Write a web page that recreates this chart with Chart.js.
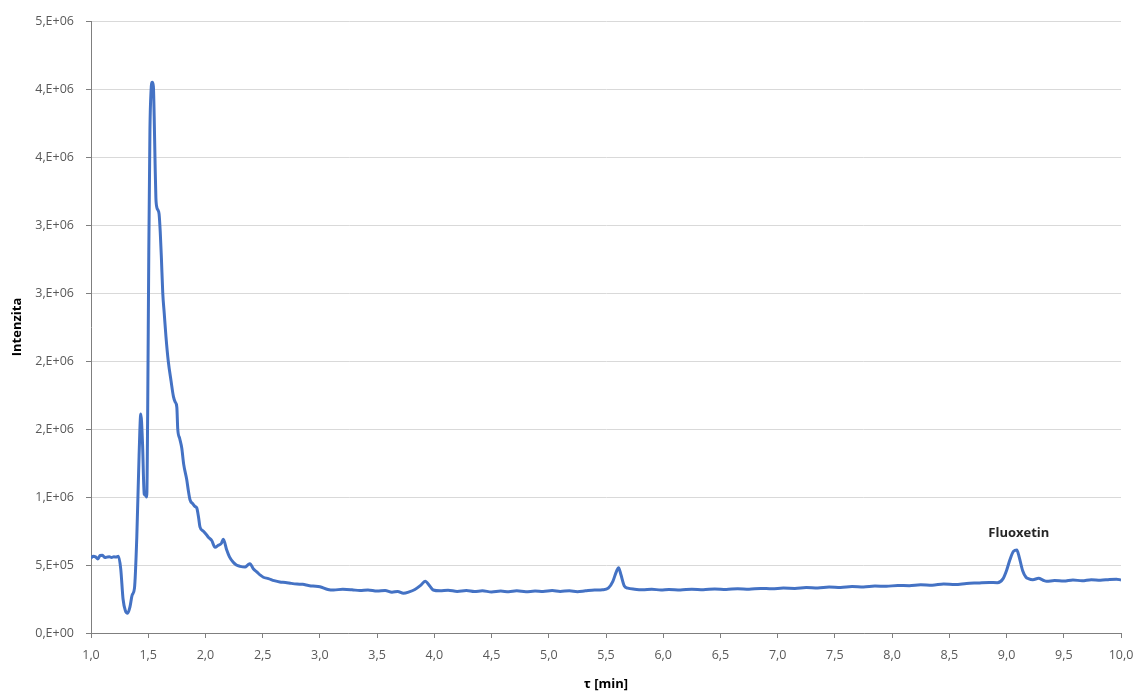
<!DOCTYPE html>
<html>
<head>
<meta charset="utf-8">
<script src="https://cdn.jsdelivr.net/npm/chart.js@4/dist/chart.umd.min.js"></script>
<style>
    html, body { margin: 0; padding: 0; background: #ffffff; }
    #wrap { width: 1137px; height: 695px; position: relative; }
</style>
</head>
<body>
<div id="wrap"><canvas id="chart"></canvas></div>
<script>
"use strict";

// retention time [min]
const times = [
    1.00, 1.02, 1.04, 1.06, 1.08, 1.10, 1.12, 1.14, 1.16, 1.18, 1.20, 1.22, 1.24,
    1.26, 1.28, 1.30, 1.32, 1.34, 1.36, 1.38, 1.40, 1.42, 1.435, 1.45, 1.465, 1.48, 1.487,
    1.495, 1.505, 1.515, 1.525, 1.535, 1.545, 1.552, 1.56, 1.567, 1.575, 1.585, 1.595,
    1.605, 1.615, 1.627, 1.64, 1.655, 1.675, 1.70, 1.72, 1.735, 1.75, 1.758, 1.775, 1.793,
    1.81, 1.836, 1.85, 1.865, 1.89, 1.909, 1.924, 1.94, 1.952, 1.98, 2.011, 2.03, 2.055,
    2.084, 2.112, 2.14, 2.156, 2.186, 2.21, 2.243, 2.27, 2.302, 2.346, 2.37, 2.389, 2.42,
    2.448, 2.48, 2.506, 2.55, 2.60, 2.65, 2.70, 2.75, 2.80, 2.85, 2.90, 2.94, 3.00, 3.07,
    3.12, 3.20, 3.28, 3.35, 3.42, 3.50, 3.57, 3.63, 3.68, 3.73, 3.78, 3.83, 3.88, 3.92,
    3.96, 3.99, 4.05, 4.12, 4.20, 4.28, 4.35, 4.42, 4.50, 4.58, 4.65, 4.72, 4.80, 4.88,
    4.95, 5.03, 5.10, 5.18, 5.25, 5.32, 5.40, 5.47, 5.52, 5.56, 5.59, 5.61, 5.63, 5.66,
    5.69, 5.75, 5.82, 5.90, 5.98, 6.05, 6.15, 6.25, 6.35, 6.45, 6.55, 6.65, 6.75, 6.85,
    6.95, 7.05, 7.15, 7.25, 7.35, 7.45, 7.55, 7.65, 7.75, 7.85, 7.95, 8.05, 8.15, 8.25,
    8.35, 8.45, 8.55, 8.65, 8.75, 8.85, 8.92, 8.97, 9.00, 9.03, 9.06, 9.09, 9.11, 9.14,
    9.17, 9.19, 9.23, 9.28, 9.32, 9.35, 9.42, 9.50, 9.58, 9.66, 9.74, 9.82, 9.90, 9.96, 10.00
];

// intensity
const intensities = [
    550000, 565000, 560000, 545000, 570000, 572000, 555000, 558000, 560000, 556000, 560000, 558000, 565000,
    470000, 250000, 165000, 145000, 190000, 280000, 330000, 700000, 1300000, 1610000, 1400000, 1020000, 1010000, 1000000,
    1600000, 2800000, 3700000, 3990000, 4050000, 4020000, 3800000, 3450000, 3200000, 3130000, 3110000, 3080000,
    2950000, 2760000, 2500000, 2350000, 2180000, 2000000, 1850000, 1740000, 1700000, 1660000, 1500000, 1430000, 1360000,
    1240000, 1130000, 1050000, 980000, 950000, 930000, 920000, 850000, 780000, 750000, 720000, 700000, 680000,
    630000, 645000, 660000, 690000, 610000, 560000, 520000, 500000, 490000, 485000, 500000, 510000, 470000,
    450000, 425000, 410000, 400000, 385000, 375000, 372000, 365000, 360000, 358000, 350000, 345000, 340000, 320000,
    316000, 322000, 318000, 312000, 316000, 308000, 312000, 300000, 306000, 292000, 302000, 320000, 350000, 380000,
    345000, 316000, 310000, 314000, 306000, 312000, 305000, 310000, 302000, 308000, 304000, 310000, 303000, 308000,
    305000, 312000, 306000, 310000, 304000, 310000, 316000, 318000, 330000, 380000, 450000, 480000, 430000, 345000,
    330000, 322000, 318000, 322000, 316000, 320000, 316000, 322000, 318000, 324000, 320000, 326000, 322000, 328000,
    325000, 330000, 328000, 334000, 331000, 338000, 335000, 342000, 339000, 346000, 343000, 350000, 348000, 355000,
    352000, 360000, 357000, 364000, 368000, 372000, 370000, 400000, 460000, 540000, 600000, 610000, 560000, 460000,
    410000, 400000, 392000, 402000, 388000, 380000, 386000, 382000, 390000, 384000, 392000, 388000, 394000, 396000, 390000
];

const xTicks = { min: 1, max: 10, step: 0.5 };
const yTicks = { min: 0, max: 4500000, step: 500000 };

const peakLabel = "Fluoxetin";
const peakTime = 9.09;

const tickFont = { family: "'Open Sans', sans-serif", size: 12.5 };
const titleFont = { family: "'Open Sans', sans-serif", size: 13, weight: "bold" };

// Excel "0,E+00" style
function sciLabel(v) {
    if (v === 0) return "0,E+00";
    let exp = Math.floor(Math.log10(v));
    let m = Math.round(v / Math.pow(10, exp));
    if (m >= 10) { m = 1; exp++; }
    return m + ",E+" + (exp < 10 ? "0" + exp : exp);
}

// text label over the named peak
const peakLabelPlugin = {
    id: "peakLabel",
    afterDatasetsDraw(chart) {
        const xs = chart.scales.x;
        const ys = chart.scales.y;
        const idx = times.indexOf(peakTime);
        const px = xs.getPixelForValue(peakTime);
        const py = ys.getPixelForValue(intensities[idx]);
        const c = chart.ctx;
        c.save();
        c.font = "bold 13px 'Open Sans', sans-serif";
        c.fillStyle = "#262626";
        c.textAlign = "center";
        c.textBaseline = "middle";
        c.fillText(peakLabel, px + 2, py - 17);
        c.restore();
    }
};

var points = times.map(function (t, i) {
    return { x: t, y: intensities[i] };
});

new Chart(document.getElementById("chart"), {
    type: "line",
    data: {
        datasets: [{
            data: points,
            borderColor: "#4472C4",
            borderWidth: 3,
            pointRadius: 0,
            cubicInterpolationMode: "monotone",
            fill: false
        }]
    },
    options: {
        responsive: true,
        maintainAspectRatio: false,
        animation: false,
        layout: { padding: { left: 0, right: 16, top: 21, bottom: 0 } },
        plugins: {
            legend: { display: false },
            tooltip: { enabled: false }
        },
        scales: {
            x: {
                type: "linear",
                min: xTicks.min,
                max: xTicks.max,
                afterFit: function (s) {
                    s.height = 62;
                    s.paddingRight = 0;
                    s.paddingLeft = 0;
                },
                ticks: {
                    stepSize: xTicks.step,
                    color: "#595959",
                    font: tickFont,
                    padding: 10,
                    maxRotation: 0,
                    callback: function (v) { return v.toFixed(1).replace(".", ","); }
                },
                grid: {
                    drawOnChartArea: false,
                    tickLength: 5,
                    tickColor: "#7f7f7f"
                },
                border: { color: "#7f7f7f", width: 1 },
                title: {
                    display: true,
                    text: "τ [min]",
                    color: "#000000",
                    font: titleFont,
                    padding: { top: 0, bottom: 3 }
                }
            },
            y: {
                min: yTicks.min,
                max: yTicks.max,
                afterFit: function (s) { s.width = 91; },
                ticks: {
                    stepSize: yTicks.step,
                    color: "#595959",
                    font: tickFont,
                    padding: 12,
                    callback: function (v) { return sciLabel(v); }
                },
                grid: {
                    color: "#d9d9d9",
                    lineWidth: 1,
                    tickLength: 5,
                    tickColor: "#7f7f7f"
                },
                border: { color: "#7f7f7f", width: 1 },
                title: {
                    display: true,
                    text: "Intenzita",
                    color: "#000000",
                    font: titleFont,
                    padding: { top: 9, bottom: 0 }
                }
            }
        }
    },
    plugins: [peakLabelPlugin]
});
</script>
</body>
</html>
